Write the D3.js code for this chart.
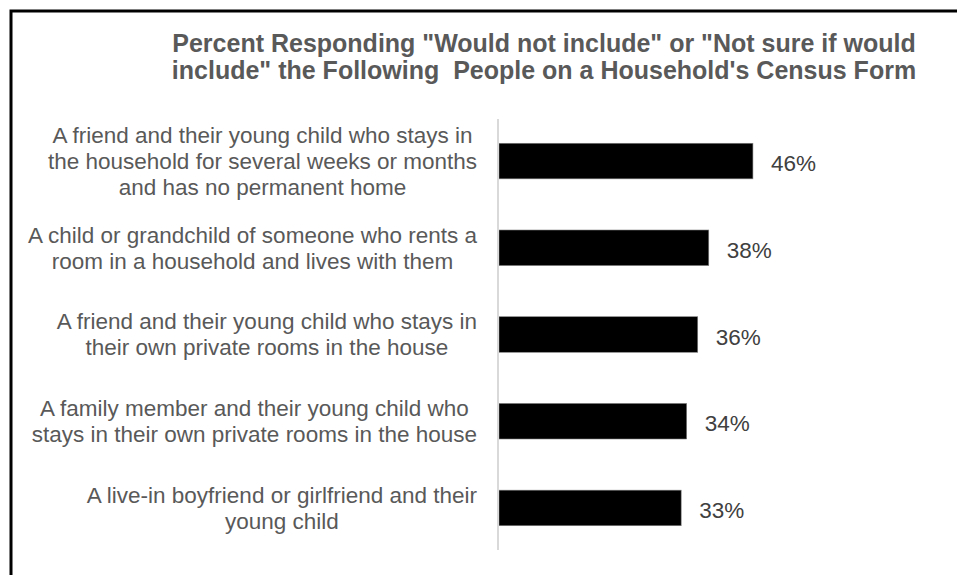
<!DOCTYPE html>
<html>
<head>
<meta charset="utf-8">
<script src="https://cdn.jsdelivr.net/npm/d3@7"></script>
<style>
  body { margin: 0; background: #fff; }
  svg text { font-family: "Liberation Sans", Arial, sans-serif; }
</style>
</head>
<body>
<div id="container"></div>
<script>
// data
const categories = [
    ["A friend and their young child who stays in", "the household for several weeks or months", "and has no permanent home"],
    ["A child or grandchild of someone who rents a", "room in a household and lives with them"],
    ["A friend and their young child who stays in", "their own private rooms in the house"],
    ["A family member and their young child who", "stays in their own private rooms in the house"],
    ["A live-in boyfriend or girlfriend and their", "young child"]
];
const values = [46, 38, 36, 34, 33];
const titleLines = [
    "Percent Responding \"Would not include\" or \"Not sure if would",
    "include\" the Following  People on a Household's Census Form"
];

const width = 957, height = 575;
const margin = {top: 119, left: 498, bottom: 25};

const svg = d3.select("#container")
    .append("svg")
    .attr("width", width)
    .attr("height", height);

// frame (only top and left edges show in the picture)
svg.append("path")
    .attr("d", "M11," + height + " V11 H" + width)
    .attr("fill", "none")
    .attr("stroke", "#000")
    .attr("stroke-width", 3);

svg.append("text")
    .attr("x", 544)
    .attr("y", 52)
    .attr("text-anchor", "middle")
    .attr("fill", "#595959")
    .style("font-size", "25px")
    .style("font-weight", "bold")
    .style("white-space", "pre")
    .selectAll("tspan")
    .data(titleLines)
    .enter()
    .append("tspan")
    .attr("x", 544)
    .attr("dy", (d, i) => i ? 27 : 0)
    .text(d => d);

const x = d3.scaleLinear()
    .domain([0, 100])
    .range([margin.left, margin.left + 552]);

const y = d3.scaleBand()
    .domain(d3.range(values.length))
    .range([margin.top, height - margin.bottom])
    .paddingInner(0.59)
    .paddingOuter(0.28);

// bars
svg.selectAll(".bar")
    .data(values)
    .enter()
    .append("rect")
    .attr("class", "bar")
    .attr("x", x(0) + 1)
    .attr("y", (d, i) => y(i))
    .attr("width", d => x(d) - x(0))
    .attr("height", y.bandwidth())
    .attr("fill", "#000")
    .attr("stroke", "#7f7f7f")
    .attr("stroke-width", 0.6);

// vertical axis line
svg.append("line")
    .attr("x1", x(0)).attr("x2", x(0))
    .attr("y1", margin.top).attr("y2", height - margin.bottom)
    .attr("stroke", "#d9d9d9")
    .attr("stroke-width", 2);

// value labels
svg.selectAll(".val")
    .data(values)
    .enter()
    .append("text")
    .attr("class", "val")
    .attr("x", d => x(d) + 19)
    .attr("y", (d, i) => y(i) + y.bandwidth() / 2)
    .attr("dy", "0.45em")
    .attr("fill", "#404040")
    .style("font-size", "22.5px")
    .text(d => d + "%");

// category labels, each block centred on its own widest line, right edge fixed
const labelRight = 477, lineH = 26;
const cat = svg.selectAll(".cat")
    .data(categories)
    .enter()
    .append("text")
    .attr("class", "cat")
    .attr("text-anchor", "middle")
    .attr("fill", "#595959")
    .style("font-size", "22.5px");

cat.each(function (lines, i) {
    const t = d3.select(this);
    const cy = y(i) + y.bandwidth() / 2;
    const y0 = cy - (lines.length - 1) * lineH / 2;
    t.selectAll("tspan")
        .data(lines)
        .enter()
        .append("tspan")
        .attr("y", (d, j) => y0 + j * lineH)
        .attr("dy", "0.35em")
        .text(d => d);
    let maxW = 0;
    t.selectAll("tspan").each(function () {
        maxW = Math.max(maxW, this.getComputedTextLength());
    });
    t.selectAll("tspan").attr("x", labelRight - maxW / 2);
});
</script>
</body>
</html>
